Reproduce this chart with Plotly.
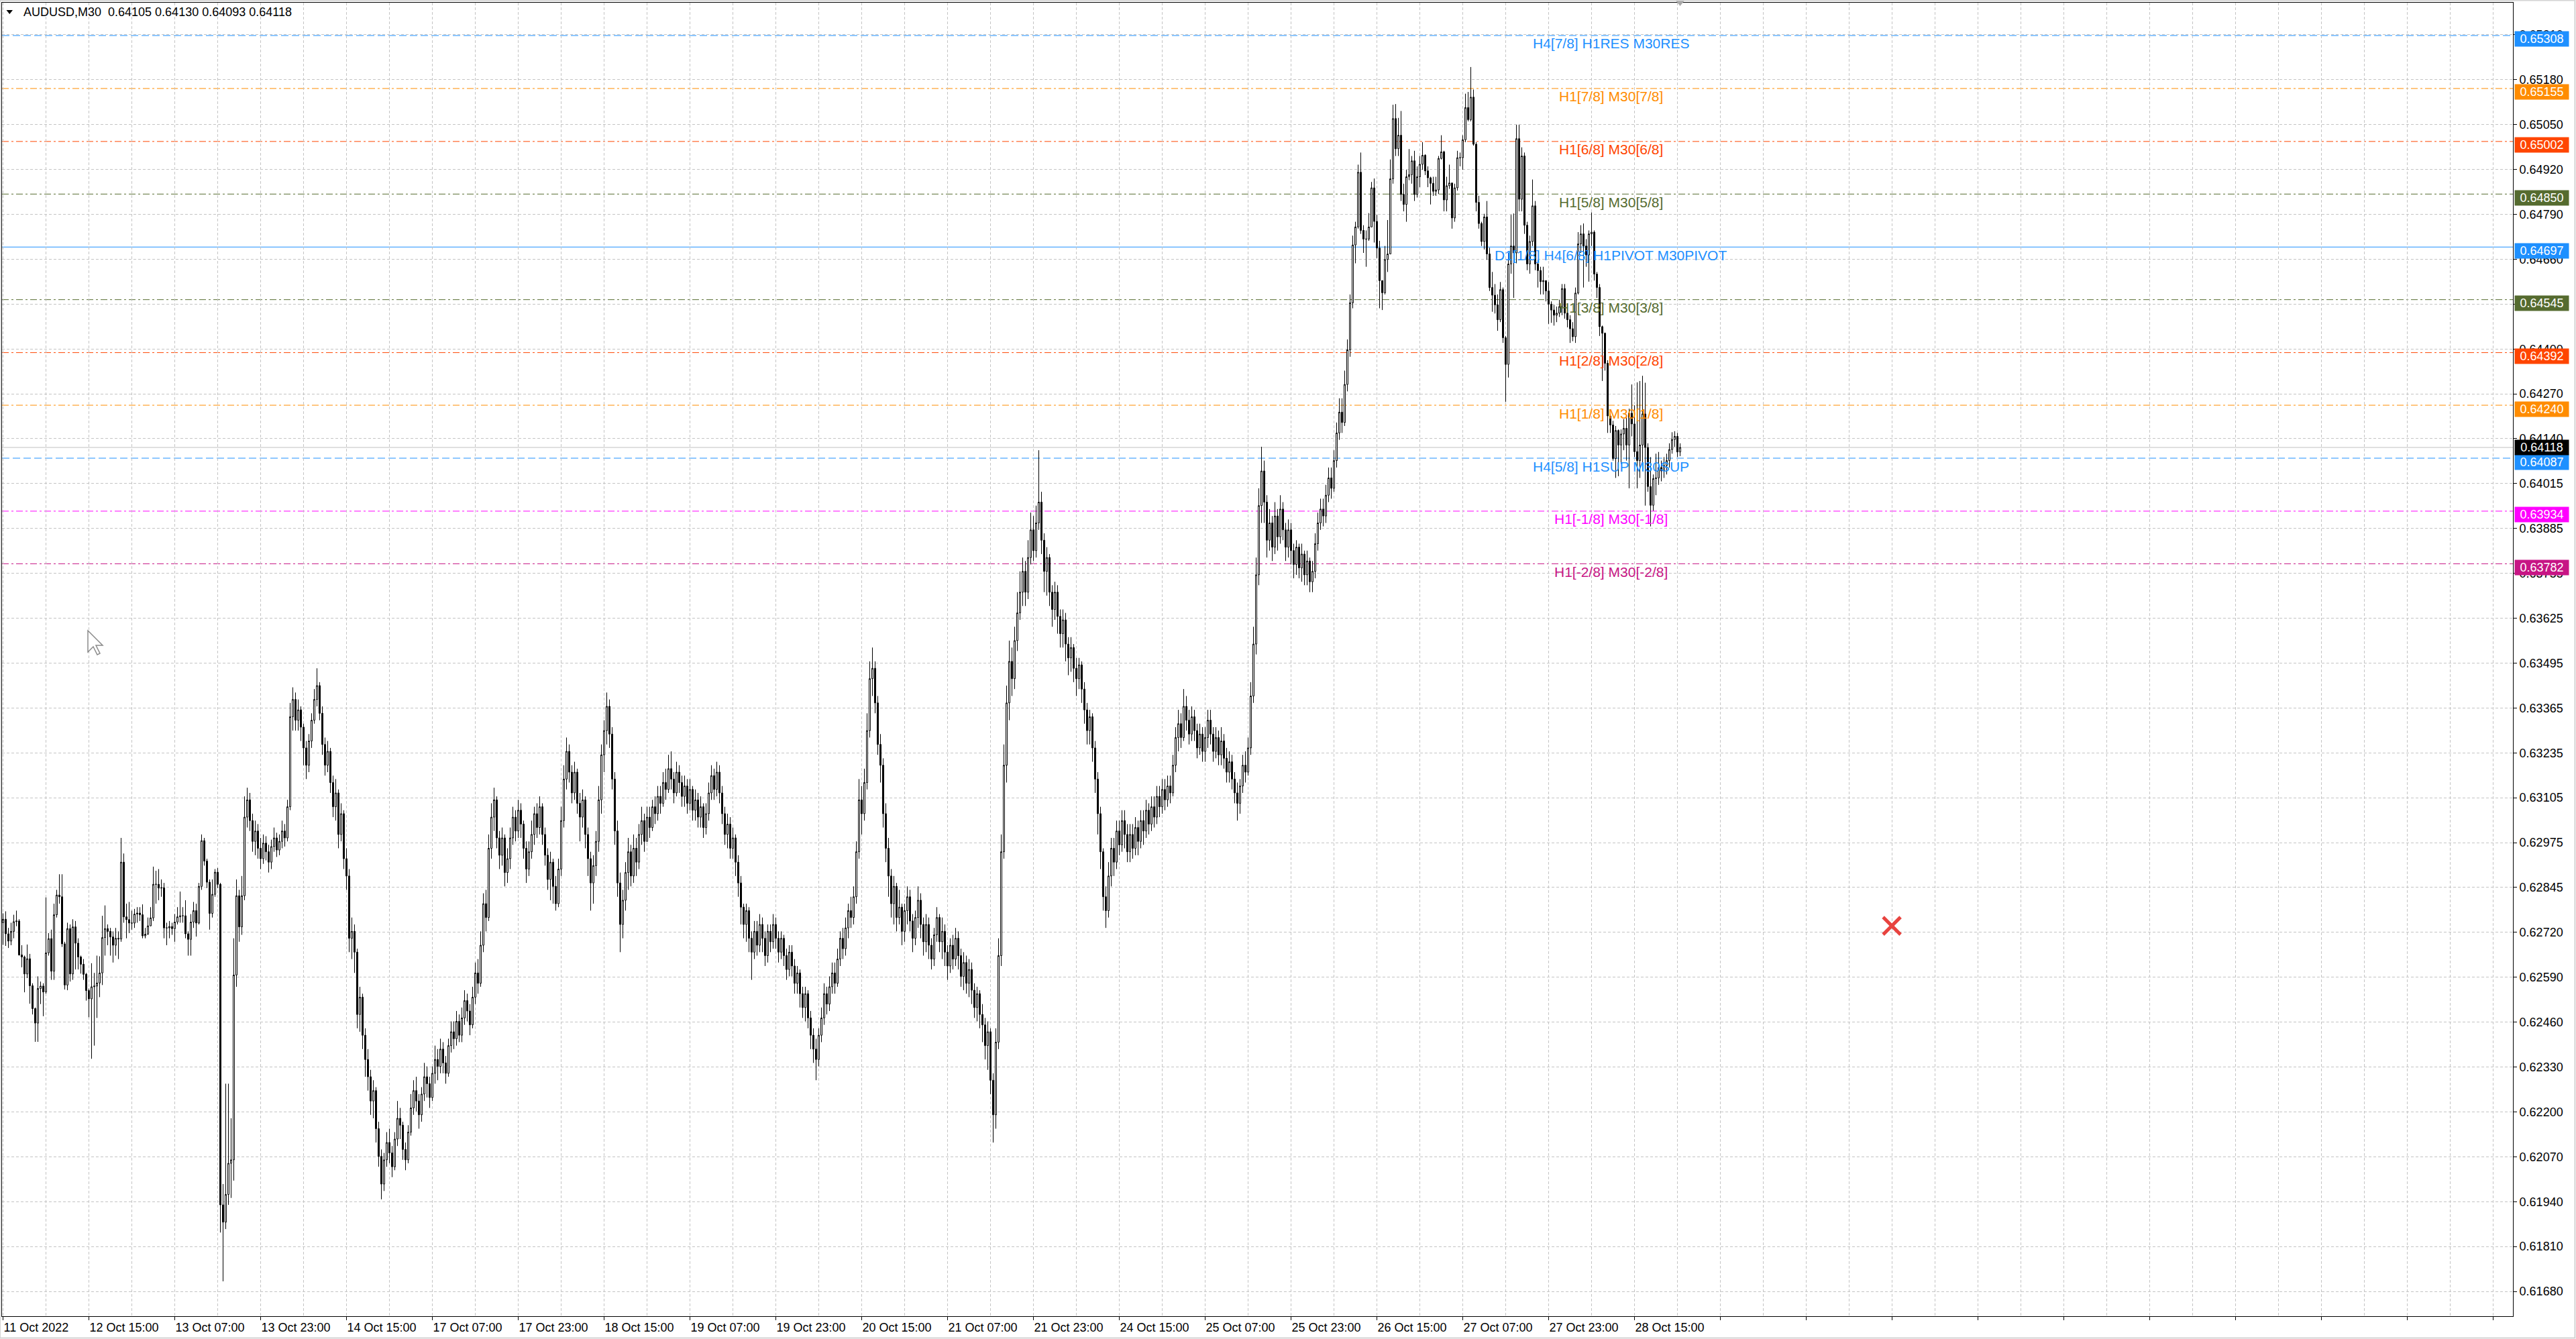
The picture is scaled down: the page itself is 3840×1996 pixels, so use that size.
import numpy as np
import plotly.graph_objects as go

# ---------------- data ----------------
TITLE = "AUDUSD,M30\u00a0\u00a00.64105 0.64130 0.64093 0.64118"

x_labels = ["11 Oct 2022", "12 Oct 15:00", "13 Oct 07:00", "13 Oct 23:00", "14 Oct 15:00",
            "17 Oct 07:00", "17 Oct 23:00", "18 Oct 15:00", "19 Oct 07:00", "19 Oct 23:00",
            "20 Oct 15:00", "21 Oct 07:00", "21 Oct 23:00", "24 Oct 15:00", "25 Oct 07:00",
            "25 Oct 23:00", "26 Oct 15:00", "27 Oct 07:00", "27 Oct 23:00", "28 Oct 15:00"]

y_labels = ["0.61680", "0.61810", "0.61940", "0.62070", "0.62200", "0.62330", "0.62460",
            "0.62590", "0.62720", "0.62845", "0.62975", "0.63105", "0.63235", "0.63365",
            "0.63495", "0.63625", "0.63755", "0.63885", "0.64015", "0.64140", "0.64270",
            "0.64400", "0.64530", "0.64660", "0.64790", "0.64920", "0.65050", "0.65180",
            "0.65310"]

# prices in points above 0.60000 (1 point = 0.00001); open of each bar = previous close
first_open = 2745
close_pts = [
    2755, 2713, 2692, 2720, 2748, 2750, 2652, 2646, 2597, 2641,
    2563, 2497, 2455, 2555, 2562, 2545, 2658, 2699, 2605, 2768,
    2825, 2820, 2684, 2565, 2728, 2597, 2733, 2686, 2646, 2625,
    2596, 2549, 2525, 2560, 2562, 2571, 2600, 2702, 2728, 2720,
    2704, 2680, 2700, 2698, 2920, 2762, 2754, 2744, 2744, 2770,
    2773, 2768, 2707, 2712, 2736, 2759, 2856, 2856, 2845, 2846,
    2730, 2730, 2734, 2728, 2747, 2762, 2765, 2765, 2713, 2697,
    2747, 2780, 2744, 2850, 2982, 2923, 2862, 2772, 2827, 2891,
    2856, 1930, 1880, 1960, 2050, 2060, 2594, 2823, 2733, 2823,
    3050, 3100, 3040, 2980, 3010, 2960, 2930, 2975, 2950, 2920,
    2965, 2990, 2955, 2980, 3010, 2990, 3080, 3340, 3390, 3330,
    3360, 3310, 3250, 3200, 3270, 3330, 3390, 3430, 3350, 3260,
    3200, 3240, 3150, 3080, 3120, 3000, 3060, 2930, 2880, 2700,
    2720, 2660, 2480, 2530, 2420, 2350, 2300, 2230, 2260, 2150,
    2070, 1990, 2060, 2110, 2080, 2040, 2120, 2180, 2160, 2090,
    2060, 2140, 2210, 2260, 2230, 2190, 2250, 2300, 2280, 2240,
    2310, 2350, 2330, 2380, 2340, 2310, 2390, 2430, 2410, 2460,
    2420, 2470, 2520, 2490, 2450, 2530, 2600, 2570, 2680, 2800,
    2760, 2960, 3050, 3100, 2990, 2940, 2990, 2890, 2930, 2990,
    3050, 3010, 3070, 3030, 2960, 2900, 2950, 3000, 3060, 3020,
    3080, 3000, 2940, 2870, 2920, 2850, 2800, 2900, 3040, 3160,
    3240, 3180, 3120, 3180, 3090, 3050, 3100, 3000, 2930, 2860,
    2910, 2980, 3100, 3230, 3300, 3370, 3290, 3160, 3010, 2860,
    2740, 2810, 2890, 2950, 2880, 2960, 2920, 3000, 3040, 2980,
    3050, 3020, 3080, 3060, 3110, 3090, 3150, 3130, 3190, 3160,
    3120, 3180, 3150, 3110, 3140, 3090, 3130, 3070, 3100, 3050,
    3080, 3020, 3060, 3120, 3170, 3130, 3180, 3120, 3060, 3000,
    3030, 2960, 2990, 2920, 2860, 2790, 2740, 2780, 2700, 2660,
    2720, 2680, 2740, 2700, 2650, 2720, 2690, 2740, 2700, 2660,
    2700, 2650, 2610, 2660, 2620, 2570, 2600, 2540, 2500, 2540,
    2470, 2420, 2380, 2350, 2420, 2470, 2540, 2510, 2560, 2600,
    2570, 2640, 2700, 2670, 2730, 2780, 2760, 2820, 2950, 3100,
    3060, 3150, 3300, 3450, 3480, 3380, 3260, 3200, 3060, 2960,
    2880, 2800, 2850, 2760, 2790, 2720, 2780, 2820, 2750, 2700,
    2760, 2810, 2740, 2690, 2740, 2680, 2640, 2710, 2760, 2690,
    2720, 2660, 2620, 2680, 2640, 2700, 2650, 2590, 2630, 2570,
    2610, 2550, 2500, 2540, 2480, 2450, 2390, 2430, 2290, 2190,
    2400, 2650, 2950, 3200, 3380, 3500, 3450, 3560, 3640, 3700,
    3760, 3700, 3800, 3880, 3820, 3900, 3960, 3850, 3760, 3800,
    3700, 3650, 3700, 3630, 3580, 3620, 3550, 3510, 3540, 3480,
    3450, 3490, 3420, 3360, 3300, 3340, 3250, 3160, 3060, 2950,
    2820, 2780, 2880, 2960, 2920, 3010, 2970, 3040, 3000, 2950,
    3000, 2960, 3020, 2980, 3040, 3010, 3070, 3030, 3080, 3050,
    3110, 3080, 3130, 3100, 3140, 3120, 3200, 3280, 3320, 3280,
    3370, 3330, 3290, 3340, 3300, 3250, 3290, 3240, 3280, 3330,
    3290, 3240, 3280, 3230, 3270, 3220, 3180, 3210, 3160, 3120,
    3090, 3140, 3200, 3180, 3250, 3400, 3550, 3750, 3950, 4050,
    3960, 3850, 3900, 3830, 3920, 3860, 3940, 3880, 3830, 3880,
    3820, 3780, 3830, 3770, 3810, 3750, 3790, 3730, 3760, 3840,
    3900, 3940, 3920, 3980, 4030, 4000, 4080, 4160, 4220, 4190,
    4300, 4400, 4536, 4703, 4755, 4913, 4745, 4720, 4720, 4755,
    4868, 4771, 4694, 4600, 4565, 4661, 4677, 4894, 5068, 4981,
    5020, 4849, 4820, 4900, 4906, 4946, 4849, 4900, 4936, 4962,
    4917, 4897, 4881, 4858, 4862, 4953, 4972, 4833, 4874, 4882,
    4781, 4868, 4955, 4955, 5007, 5100, 5065, 5130, 4994, 4826,
    4765, 4713, 4784, 4677, 4580, 4558, 4530, 4487, 4574, 4435,
    4358, 4648, 4700, 4680, 5010, 4835, 4960, 4760, 4648, 4713,
    4816, 4648, 4629, 4597, 4600, 4570, 4532, 4515, 4500, 4506,
    4525, 4577, 4506, 4487, 4461, 4438, 4564, 4706, 4735, 4700,
    4674, 4735, 4740, 4619, 4580, 4467, 4448, 4361, 4209, 4183,
    4086, 4167, 4125, 4157, 4173, 4125, 4217, 4186, 4106, 4080,
    4125, 4215, 4118, 4005, 3951, 4028, 4030, 4060, 4050, 4066,
    4080, 4112, 4141, 4150, 4105, 4118,
]
high_pts = [
    2772, 2778, 2730, 2745, 2768, 2780, 2755, 2680, 2650, 2682,
    2655, 2570, 2500, 2590, 2575, 2570, 2818, 2715, 2725, 2800,
    2840, 2885, 2885, 2690, 2745, 2740, 2755, 2750, 2700, 2650,
    2640, 2600, 2555, 2628, 2600, 2650, 2648, 2765, 2795, 2740,
    2730, 2720, 2730, 2720, 2990, 2945, 2800, 2805, 2780, 2785,
    2790, 2790, 2798, 2730, 2760, 2790, 2907, 2895, 2900, 2870,
    2860, 2745, 2750, 2745, 2770, 2790, 2835, 2790, 2810, 2720,
    2770, 2805, 2800, 2860, 3000, 2990, 2930, 2870, 2870, 2900,
    2903, 2860, 1990, 2280, 2280, 2180, 2700, 2870, 2840, 2880,
    3110, 3135, 3120, 3060, 3040, 3030, 2990, 3000, 2995, 2970,
    2985, 3020, 3005, 3000, 3040, 3030, 3100, 3380, 3425, 3410,
    3390, 3370, 3320, 3270, 3290, 3350, 3420, 3480, 3440, 3370,
    3280, 3270, 3250, 3170, 3160, 3130, 3090, 3070, 2960, 2900,
    2760, 2740, 2670, 2560, 2540, 2440, 2380, 2320, 2290, 2270,
    2170, 2090, 2080, 2140, 2150, 2100, 2140, 2230, 2210, 2170,
    2110, 2160, 2250, 2290, 2300, 2250, 2270, 2340, 2330, 2300,
    2330, 2390, 2380, 2410, 2400, 2360, 2410, 2460, 2460, 2490,
    2480, 2500, 2550, 2540, 2510, 2560, 2630, 2640, 2720, 2830,
    2840, 3000, 3090, 3135, 3110, 3010, 3020, 3000, 2960, 3020,
    3080, 3070, 3100, 3090, 3040, 2980, 2980, 3040, 3080, 3090,
    3110, 3090, 3020, 2960, 2950, 2930, 2880, 2930, 3080, 3200,
    3280, 3260, 3200, 3210, 3190, 3120, 3130, 3110, 3020, 2950,
    2940, 3010, 3140, 3260, 3330, 3410, 3390, 3310, 3180, 3040,
    2890, 2840, 2920, 2990, 2970, 3000, 2990, 3030, 3080, 3060,
    3080, 3080, 3100, 3110, 3140, 3140, 3180, 3190, 3230, 3240,
    3180, 3210, 3200, 3170, 3170, 3160, 3160, 3140, 3130, 3120,
    3110, 3090, 3090, 3150, 3200, 3190, 3210, 3200, 3140, 3080,
    3060, 3050, 3020, 3000, 2940, 2880, 2800, 2800, 2790, 2720,
    2750, 2750, 2770, 2760, 2720, 2740, 2740, 2770, 2760, 2720,
    2720, 2710, 2670, 2680, 2680, 2640, 2620, 2610, 2560, 2560,
    2550, 2490, 2440, 2410, 2440, 2500, 2570, 2560, 2590, 2630,
    2630, 2670, 2720, 2730, 2760, 2800, 2820, 2850, 2980, 3160,
    3140, 3190, 3350, 3500, 3540, 3500, 3400, 3290, 3220, 3090,
    2990, 2900, 2880, 2860, 2840, 2800, 2800, 2850, 2840, 2770,
    2780, 2850, 2830, 2760, 2770, 2760, 2700, 2730, 2790, 2770,
    2760, 2740, 2680, 2700, 2710, 2730, 2720, 2670, 2660, 2650,
    2640, 2630, 2570, 2560, 2550, 2510, 2470, 2460, 2440, 2310,
    2440, 2700, 3000, 3260, 3430, 3560, 3540, 3600, 3700, 3760,
    3800, 3790, 3850, 3930, 3920, 3950, 4110, 3990, 3870, 3830,
    3810, 3720, 3730, 3720, 3650, 3650, 3640, 3570, 3570, 3550,
    3510, 3510, 3500, 3440, 3380, 3360, 3350, 3270, 3180, 3080,
    2960, 2850, 2920, 2990, 2990, 3040, 3040, 3070, 3070, 3030,
    3030, 3030, 3050, 3040, 3070, 3070, 3100, 3090, 3110, 3110,
    3140, 3140, 3160, 3160, 3170, 3170, 3230, 3310, 3360, 3350,
    3420, 3400, 3360, 3370, 3360, 3320, 3320, 3310, 3310, 3360,
    3360, 3310, 3310, 3300, 3310, 3290, 3250, 3240, 3230, 3180,
    3150, 3160, 3230, 3240, 3280, 3440, 3600, 3800, 4000, 4120,
    4080, 3980, 3940, 3920, 3960, 3940, 3980, 3960, 3900, 3910,
    3900, 3840, 3850, 3840, 3840, 3820, 3820, 3800, 3790, 3870,
    3930, 3970, 3970, 4010, 4060, 4060, 4110, 4190, 4260, 4260,
    4340, 4430, 4560, 4730, 4770, 4935, 4970, 4760, 4745, 4795,
    4885, 4895, 4790, 4715, 4600, 4700, 4775, 4950, 5108, 5110,
    5070, 5090, 4880, 4920, 4980, 4960, 4975, 4930, 4960, 5000,
    4965, 4930, 4900, 4900, 4900, 4960, 5020, 4975, 4900, 4935,
    4865, 4880, 4975, 4970, 5020, 5140, 5145, 5217, 5152, 5000,
    4845, 4770, 4793, 4830, 4695, 4625, 4590, 4560, 4596, 4580,
    4440, 4680, 4790, 4794, 5050, 5050, 4985, 4970, 4770, 4730,
    4892, 4830, 4660, 4640, 4640, 4600, 4596, 4540, 4530, 4525,
    4545, 4590, 4590, 4520, 4500, 4480, 4580, 4740, 4760, 4765,
    4720, 4745, 4797, 4745, 4625, 4590, 4470, 4450, 4370, 4215,
    4195, 4180, 4170, 4170, 4200, 4210, 4230, 4300, 4240, 4306,
    4310, 4325, 4305, 4130, 4090, 4040, 4100, 4105, 4080, 4090,
    4100, 4130, 4162, 4165, 4160, 4130,
]
low_pts = [
    2681, 2678, 2672, 2680, 2700, 2735, 2650, 2616, 2544, 2585,
    2511, 2480, 2401, 2401, 2510, 2475, 2540, 2650, 2580, 2580,
    2760, 2800, 2675, 2552, 2550, 2575, 2580, 2610, 2610, 2598,
    2580, 2520, 2472, 2352, 2390, 2470, 2530, 2565, 2650, 2680,
    2650, 2630, 2650, 2640, 2690, 2745, 2700, 2715, 2725, 2730,
    2745, 2750, 2700, 2700, 2710, 2735, 2750, 2800, 2810, 2820,
    2700, 2680, 2700, 2710, 2690, 2740, 2745, 2745, 2700, 2650,
    2650, 2730, 2705, 2740, 2840, 2910, 2845, 2725, 2760, 2820,
    2845, 1850, 1709, 1860, 1930, 1950, 2000, 2560, 2690, 2710,
    2810, 3020, 3010, 2950, 2940, 2930, 2900, 2915, 2925, 2890,
    2900, 2950, 2935, 2940, 2960, 2965, 2980, 3070, 3300, 3300,
    3300, 3270, 3200, 3160, 3180, 3250, 3320, 3370, 3330, 3230,
    3170, 3180, 3120, 3050, 3040, 2960, 2980, 2900, 2840, 2660,
    2640, 2600, 2440, 2430, 2380, 2300, 2260, 2190, 2180, 2110,
    2040, 1946, 1970, 2040, 2050, 2010, 2030, 2100, 2120, 2060,
    2030, 2050, 2130, 2190, 2200, 2150, 2170, 2230, 2240, 2210,
    2230, 2280, 2290, 2310, 2310, 2280, 2300, 2370, 2380, 2390,
    2400, 2400, 2450, 2460, 2420, 2440, 2510, 2540, 2560, 2660,
    2720, 2750, 2930, 3010, 2960, 2900, 2910, 2850, 2860, 2900,
    2970, 2980, 2990, 2990, 2930, 2860, 2880, 2930, 2970, 2990,
    3000, 2970, 2910, 2840, 2810, 2800, 2780, 2790, 2880, 3020,
    3130, 3150, 3090, 3100, 3060, 2980, 3020, 2960, 2880, 2780,
    2800, 2880, 2950, 3060, 3180, 3260, 3250, 3130, 2970, 2820,
    2660, 2700, 2780, 2840, 2850, 2860, 2880, 2900, 2970, 2950,
    2980, 2990, 3010, 3030, 3040, 3060, 3080, 3100, 3120, 3130,
    3090, 3110, 3120, 3080, 3080, 3060, 3070, 3040, 3040, 3020,
    3020, 2990, 3000, 3040, 3100, 3100, 3110, 3090, 3030, 2970,
    2960, 2930, 2930, 2880, 2820, 2740, 2700, 2690, 2660, 2580,
    2640, 2650, 2660, 2660, 2620, 2630, 2660, 2670, 2670, 2630,
    2640, 2620, 2580, 2590, 2590, 2540, 2540, 2500, 2470, 2460,
    2440, 2380, 2340, 2290, 2330, 2400, 2450, 2480, 2490, 2540,
    2540, 2560, 2620, 2640, 2650, 2700, 2730, 2740, 2800, 2930,
    3000, 3040, 3130, 3280, 3400, 3350, 3230, 3150, 3020, 2920,
    2820, 2760, 2740, 2720, 2740, 2680, 2690, 2740, 2720, 2660,
    2680, 2730, 2700, 2650, 2660, 2640, 2610, 2620, 2690, 2660,
    2640, 2620, 2580, 2600, 2610, 2620, 2610, 2560, 2550, 2540,
    2530, 2510, 2470, 2460, 2440, 2400, 2350, 2320, 2250, 2110,
    2150, 2380, 2620, 2930, 3150, 3330, 3400, 3420, 3530, 3620,
    3660, 3660, 3680, 3780, 3790, 3800, 3880, 3810, 3700, 3690,
    3660, 3600, 3620, 3580, 3540, 3540, 3500, 3460, 3470, 3440,
    3400, 3420, 3380, 3320, 3260, 3260, 3210, 3120, 3000, 2900,
    2780, 2730, 2760, 2850, 2880, 2900, 2940, 2950, 2960, 2920,
    2920, 2930, 2940, 2940, 2960, 2970, 2990, 3000, 3010, 3020,
    3030, 3050, 3060, 3070, 3080, 3090, 3110, 3180, 3240, 3250,
    3270, 3300, 3260, 3270, 3270, 3220, 3230, 3210, 3210, 3250,
    3260, 3210, 3220, 3200, 3200, 3190, 3150, 3150, 3130, 3090,
    3040, 3060, 3120, 3150, 3170, 3230, 3380, 3520, 3720, 3900,
    3900, 3800, 3820, 3790, 3810, 3820, 3840, 3850, 3790, 3800,
    3780, 3740, 3750, 3740, 3730, 3720, 3720, 3700, 3700, 3740,
    3820, 3880, 3890, 3900, 3960, 3970, 3990, 4060, 4140, 4160,
    4180, 4280, 4380, 4520, 4650, 4750, 4735, 4680, 4640, 4715,
    4760, 4710, 4665, 4520, 4515, 4560, 4625, 4680, 4880, 4960,
    4960, 4830, 4800, 4770, 4890, 4880, 4830, 4840, 4870, 4920,
    4905, 4870, 4820, 4845, 4845, 4850, 4950, 4800, 4800, 4865,
    4750, 4770, 4860, 4930, 4920, 5000, 5060, 5060, 4990, 4800,
    4750, 4700, 4690, 4660, 4570, 4510, 4505, 4455, 4480, 4420,
    4250, 4320, 4620, 4550, 4650, 4800, 4800, 4735, 4630, 4620,
    4700, 4630, 4580, 4560, 4560, 4540, 4475, 4478, 4470, 4480,
    4495, 4500, 4490, 4465, 4420, 4425, 4420, 4560, 4680, 4580,
    4640, 4597, 4700, 4600, 4550, 4440, 4310, 4340, 4160, 4160,
    4080, 4030, 4035, 4070, 4110, 4080, 4000, 4150, 4090, 4000,
    4030, 4050, 3950, 3990, 3890, 3935, 3980, 4010, 4020, 4030,
    4040, 4060, 4100, 4120, 4090, 4093,
]

# Murrey-math style level lines drawn on the chart
level_prices = [0.65308, 0.65155, 0.65002, 0.64850, 0.64697, 0.64545,
                0.64392, 0.64240, 0.64087, 0.63934, 0.63782]
level_texts = ["H4[7/8] H1RES M30RES", "H1[7/8] M30[7/8]", "H1[6/8] M30[6/8]",
               "H1[5/8] M30[5/8]", "D1[1/8] H4[6/8] H1PIVOT M30PIVOT", "H1[3/8] M30[3/8]",
               "H1[2/8] M30[2/8]", "H1[1/8] M30[1/8]", "H4[5/8] H1SUP M30SUP",
               "H1[-1/8] M30[-1/8]", "H1[-2/8] M30[-2/8]"]
level_colors = ["#1E90FF", "#FF8C00", "#FF4500", "#556B2F", "#1E90FF", "#556B2F",
                "#FF4500", "#FF8C00", "#1E90FF", "#FF00FF", "#C71585"]
level_styles = ["dash", "dashdot", "dashdot", "dashdot", "solid", "dashdot",
                "dashdot", "dashdot", "dash", "dashdot", "dashdot"]
current_price = 0.64118
label_bar = 599.2          # horizontal centre of level captions (bar units)
cross_bar, cross_price = 703.9, 0.62736   # red cross object on chart

# ---------------- build ----------------
assert len(close_pts) == len(high_pts) == len(low_pts)
n = len(close_pts)
bars = list(range(n))
to_price = lambda v: round(0.6 + v * 1e-5, 5)
closes = [to_price(v) for v in close_pts]
opens = [to_price(first_open)] + closes[:-1]
highs = [max(to_price(h), o, c) for h, o, c in zip(high_pts, opens, closes)]
lows = [min(to_price(l), o, c) for l, o, c in zip(low_pts, opens, closes)]

FONT = "Liberation Sans, Arial, sans-serif"
fig = go.Figure()
fig.add_trace(go.Candlestick(
    x=bars, open=opens, high=highs, low=lows, close=closes,
    increasing=dict(fillcolor="white", line=dict(color="black", width=1)),
    decreasing=dict(fillcolor="black", line=dict(color="black", width=1)),
    whiskerwidth=0, hoverinfo="skip", showlegend=False))
fig.add_trace(go.Scatter(
    x=[cross_bar], y=[cross_price], mode="markers", hoverinfo="skip", showlegend=False,
    marker=dict(symbol="x-thin", size=26, line=dict(width=5, color="#E8433F"))))

dash_map = {"dash": "11px,5px", "dashdot": "10px,4px,3px,4px", "solid": "solid"}
shapes = []
for p, col, sty in zip(level_prices, level_colors, level_styles):
    shapes.append(dict(type="line", xref="paper", x0=0, x1=1, yref="y", y0=p, y1=p,
                       line=dict(color=col, width=1, dash=dash_map[sty]), layer="between"))
shapes.append(dict(type="line", xref="paper", x0=0, x1=1, yref="y", y0=current_price,
                   y1=current_price, line=dict(color="#C0C0C0", width=1), layer="between"))
# small triangle left of the title
shapes.append(dict(type="path", xref="paper", xsizemode="pixel", xanchor=0,
                   yref="paper", ysizemode="pixel", yanchor=1,
                   path="M6.5,-11 L16,-11 L11.25,-17 Z", fillcolor="black", line=dict(width=0)))
# chart-shift marker on top edge
shapes.append(dict(type="path", xref="x", xsizemode="pixel", xanchor=n - 1,
                   yref="paper", ysizemode="pixel", yanchor=1,
                   path="M-7,4 L7,4 L0,-5 Z", fillcolor="#A8A8A8", line=dict(width=0)))
# mouse pointer left on the chart
shapes.append(dict(type="path", xref="paper", xsizemode="pixel", xanchor=0,
                   yref="paper", ysizemode="pixel", yanchor=1,
                   path="M128,-936 L128,-968 L136,-960 L142,-972 L146,-970 L140,-958 L150,-958 Z",
                   fillcolor="white", line=dict(color="#8A8A8A", width=1.5)))
# window frame
shapes.append(dict(type="rect", xref="paper", yref="paper", x0=-0.0008, x1=1.0247,
                   y0=-0.0166, y1=1.0018, line=dict(color="#D4D4D4", width=2)))

annotations = [dict(xref="paper", yref="paper", x=0, y=1, xshift=29.5, yshift=-14.3,
                    xanchor="left", yanchor="middle", showarrow=False, text=TITLE,
                    font=dict(family=FONT, size=18, color="black"))]
for p, txt, col in zip(level_prices, level_texts, level_colors):
    annotations.append(dict(xref="x", yref="y", x=label_bar, y=p, yshift=-12,
                            xanchor="center", yanchor="middle", showarrow=False, text=txt,
                            font=dict(family=FONT, size=21, color=col)))
badges = list(zip(level_prices, level_colors)) + [(current_price, "black")]
for p, col in badges:
    annotations.append(dict(xref="paper", yref="y", x=1, y=p, xshift=2,
                            yshift=0 if col == "black" else -5.5,
                            xanchor="left", yanchor="middle", showarrow=False,
                            text=f"{p:.5f}", bgcolor=col, width=78, height=20, borderpad=1,
                            font=dict(family=FONT, size=18, color="white")))

ytickvals = list(np.linspace(0.61680, 0.65310, len(y_labels)))
x_major = list(range(0, 935, 32))
x_text = [x_labels[i // 32] if i // 32 < len(x_labels) else "" for i in x_major]
x_minor = list(range(16, 935, 32))

grid = dict(showgrid=True, gridcolor="#C4C4C4", gridwidth=1, griddash="4px,3px")
fig.update_layout(
    width=3840, height=1996,
    margin=dict(l=3, r=94, t=4, b=34, autoexpand=False),
    paper_bgcolor="white", plot_bgcolor="white", showlegend=False,
    font=dict(family=FONT, size=18, color="black"),
    boxgap=0.5, boxgroupgap=0,
    xaxis=dict(range=[-0.375, 935.375], tickmode="array", tickvals=x_major, ticktext=x_text,
               ticks="outside", ticklen=5, tickcolor="black",
               ticklabelposition="outside right", tickfont=dict(family=FONT, size=18),
               showline=True, linecolor="black", linewidth=1, mirror=True,
               zeroline=False, automargin=False, rangeslider=dict(visible=False),
               minor=dict(tickvals=x_minor, ticks="", **grid), **grid),
    yaxis=dict(side="right", range=[0.616083, 0.654029], tickmode="array",
               tickvals=ytickvals, ticktext=y_labels, ticks="outside", ticklen=5,
               tickcolor="black", tickfont=dict(family=FONT, size=18),
               showline=True, linecolor="black", linewidth=1, mirror=True,
               zeroline=False, automargin=False, **grid),
    shapes=shapes, annotations=annotations,
)

fig.write_html("out.html", config={"displayModeBar": False},
               post_script="document.body.style.margin='0';document.body.style.overflow='hidden';")
